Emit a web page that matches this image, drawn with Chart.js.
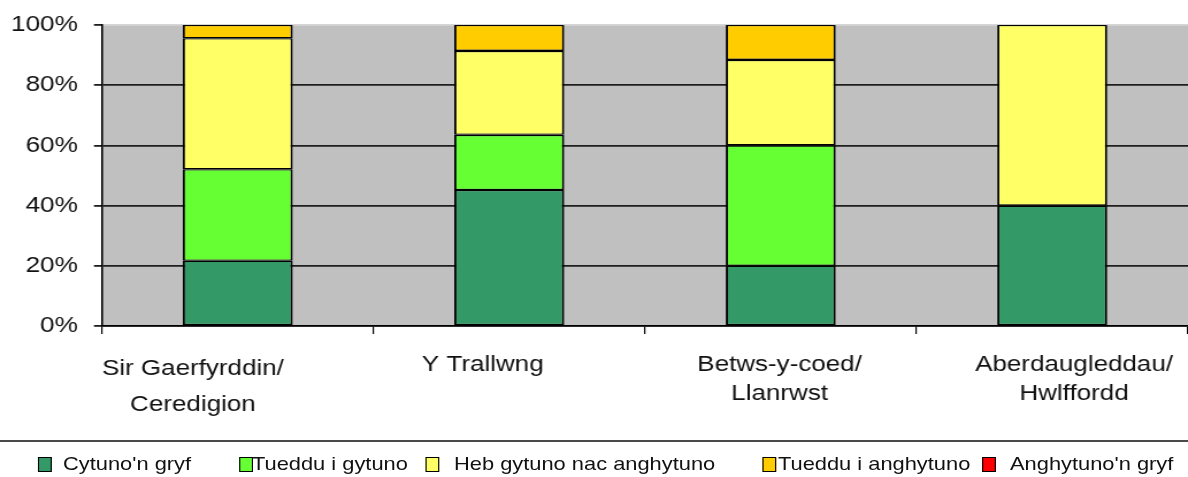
<!DOCTYPE html>
<html>
<head>
<meta charset="utf-8">
<script src="https://cdn.jsdelivr.net/npm/chart.js@4/dist/chart.umd.min.js"></script>
<style>
html,body{margin:0;padding:0;background:#fff;overflow:hidden;width:1188px;height:477px;}
#wrap{position:absolute;left:0;top:0;width:1033px;height:477px;transform:scaleX(1.15);transform-origin:0 0;}
#c{position:absolute;left:0;top:0;}
#rule{position:absolute;left:0;top:440px;width:1040px;height:2px;background:#4a4a4a;}
#legend{position:absolute;left:0;top:0;width:1033px;height:477px;font-family:"Liberation Sans",Arial,sans-serif;font-size:19px;color:#111;pointer-events:none;}
.lb{position:absolute;box-sizing:border-box;width:12px;height:15px;top:457px;border:1.5px solid #000;}
.lt{position:absolute;top:454px;line-height:19px;white-space:nowrap;}
</style>
</head>
<body>
<div id="wrap">
  <canvas id="c" width="1033" height="477"></canvas>
  <div id="rule"></div>
  <div id="legend"></div>
</div>
<script>
// ---- data ----
const categories = [["Sir Gaerfyrddin/","Ceredigion"], "Y Trallwng", ["Betws-y-coed/","Llanrwst"], ["Aberdaugleddau/","Hwlffordd"]];
const seriesNames = ["Cytuno'n gryf", "Tueddu i gytuno", "Heb gytuno nac anghytuno", "Tueddu i anghytuno", "Anghytuno'n gryf"];
const cytunoGryf       = [21.7, 45.2, 20.0, 40.0];
const tuedduIGytuno    = [30.4, 18.3, 40.0, 0];
const hebGytuno        = [43.5, 27.9, 28.4, 60.0];
const tuedduIAnghytuno = [4.4, 8.6, 11.6, 0];
const anghytunoGryf    = [0, 0, 0, 0];
const yTickValues = [0, 20, 40, 60, 80, 100];

// ---- styles ----
const seriesColors = ['#339966', '#66ff33', '#ffff66', '#ffcc00', '#ff0000'];
const labelShift = [-39, -23, -1, 19];
const legendBoxLeft = [33, 207.8, 369.6, 662.6, 853.9];
const legendTextLeft = [54.8, 219.1, 394.8, 676.5, 878.3];
const FONT = '"Liberation Sans", Arial, sans-serif';

const seriesValues = [cytunoGryf, tuedduIGytuno, hebGytuno, tuedduIAnghytuno, anghytunoGryf];

Chart.defaults.font.family = FONT;

const plotBg = {
  id: 'plotBg',
  beforeDraw(chart) {
    const {ctx, chartArea: a} = chart;
    ctx.save();
    ctx.fillStyle = '#c0c0c0';
    ctx.fillRect(a.left, a.top, a.right - a.left, a.bottom - a.top);
    ctx.restore();
    const items = chart.scales.x.getLabelItems();
    items.forEach((it, i) => {
      if (!it._shifted) {
        it.options.translation[0] += (labelShift[i] || 0);
        it._shifted = true;
      }
    });
  }
};

const chart = new Chart(document.getElementById('c'), {
  type: 'bar',
  data: {
    labels: categories,
    datasets: seriesNames.map((name, i) => ({
      label: name,
      data: seriesValues[i],
      backgroundColor: seriesColors[i],
      borderColor: '#000',
      borderWidth: {top: 1.3, bottom: 1.3, left: 1.9, right: 1.9},
      borderSkipped: false,
      barPercentage: 1,
      categoryPercentage: 0.405
    }))
  },
  options: {
    responsive: false,
    animation: false,
    devicePixelRatio: 1,
    layout: {padding: {top: 25, left: 0, right: 0, bottom: 0}},
    plugins: {legend: {display: false}, tooltip: {enabled: false}},
    scales: {
      x: {
        stacked: true,
        offset: true,
        grid: {display: true, drawOnChartArea: false, drawTicks: true, tickLength: 8, color: '#000', lineWidth: 1.2, offset: true},
        border: {display: true, color: '#000', width: 1.6},
        ticks: {
          color: '#111',
          padding: 17,
          maxRotation: 0,
          autoSkip: false,
          font: (ctx) => ({family: FONT, size: 22.6, lineHeight: ctx.index === 0 ? 1.6 : 1.257})
        },
        afterFit: (s) => { s.height = 151; s.paddingLeft = 0; s.paddingRight = 0; }
      },
      y: {
        stacked: true,
        min: 0,
        max: 100,
        afterBuildTicks: (s) => { s.ticks = yTickValues.map(v => ({value: v})); },
        grid: {
          color: (ctx) => (ctx.tick && ctx.tick.value === 100) ? '#d6d6d6' : '#1e1e1e',
          tickColor: '#1e1e1e',
          lineWidth: 1.8,
          tickLength: 7,
          drawTicks: true
        },
        border: {display: true, color: '#000', width: 1.6},
        ticks: {
          padding: 13.9,
          color: '#111',
          font: {family: FONT, size: 22.8},
          callback: (v) => v + '%'
        },
        afterFit: (s) => { s.width = 88.7; s.paddingTop = 0; s.paddingBottom = 0; }
      }
    }
  },
  plugins: [plotBg]
});

// ---- legend (HTML, built from series names/colours) ----
const legend = document.getElementById('legend');
chart.data.datasets.forEach((ds, i) => {
  const b = document.createElement('div');
  b.className = 'lb';
  b.style.left = legendBoxLeft[i] + 'px';
  b.style.background = ds.backgroundColor;
  legend.appendChild(b);
  const t = document.createElement('div');
  t.className = 'lt';
  t.style.left = legendTextLeft[i] + 'px';
  t.textContent = ds.label;
  legend.appendChild(t);
});
</script>
</body>
</html>
